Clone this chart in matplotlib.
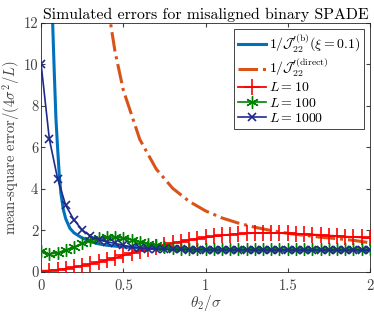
import matplotlib
matplotlib.use("Agg")
import matplotlib.pyplot as plt
import numpy as np

# Sampled theta_2/sigma grid for the simulated curves
theta = [0.00, 0.05, 0.10, 0.15, 0.20, 0.25, 0.30, 0.35, 0.40, 0.45,
         0.50, 0.55, 0.60, 0.65, 0.70, 0.75, 0.80, 0.85, 0.90, 0.95,
         1.00, 1.05, 1.10, 1.15, 1.20, 1.25, 1.30, 1.35, 1.40, 1.45,
         1.50, 1.55, 1.60, 1.65, 1.70, 1.75, 1.80, 1.85, 1.90, 1.95, 2.00]

err_L10 = [0.05, 0.06, 0.10, 0.15, 0.22, 0.30, 0.38, 0.47, 0.57, 0.68,
           0.79, 0.90, 1.00, 1.10, 1.20, 1.30, 1.38, 1.46, 1.53, 1.60,
           1.66, 1.71, 1.76, 1.80, 1.83, 1.86, 1.87, 1.88, 1.88, 1.87,
           1.86, 1.84, 1.82, 1.80, 1.78, 1.75, 1.73, 1.70, 1.68, 1.66, 1.64]

err_L100 = [1.00, 0.85, 0.92, 1.05, 1.20, 1.38, 1.52, 1.62, 1.67, 1.68,
            1.62, 1.55, 1.45, 1.35, 1.28, 1.20, 1.15, 1.12, 1.10, 1.08,
            1.10, 1.09, 1.08, 1.10, 1.08, 1.09, 1.08, 1.10, 1.08, 1.09,
            1.08, 1.10, 1.09, 1.08, 1.10, 1.08, 1.09, 1.08, 1.10, 1.09, 1.08]

err_L1000 = [10.0, 6.40, 4.50, 3.20, 2.50, 2.02, 1.72, 1.55, 1.45, 1.37,
             1.28, 1.20, 1.15, 1.12, 1.10, 1.09, 1.08, 1.08, 1.07, 1.07,
             1.07, 1.06, 1.06, 1.06, 1.06, 1.06, 1.05, 1.05, 1.05, 1.05,
             1.05, 1.05, 1.05, 1.05, 1.05, 1.05, 1.05, 1.05, 1.05, 1.05, 1.05]

# Inverse Fisher information curves
theta_b = [0.068, 0.08, 0.09, 0.10, 0.11, 0.12, 0.135, 0.15, 0.175, 0.20,
           0.24, 0.30, 0.35, 0.40, 0.50, 0.60, 0.80, 1.00, 1.50, 2.00]
inv_J_b = [12.5, 9.6, 7.4, 6.0, 4.7, 3.8, 3.0, 2.55, 2.1, 1.88,
           1.68, 1.45, 1.35, 1.28, 1.20, 1.15, 1.10, 1.08, 1.06, 1.05]

theta_d = [0.40, 0.45, 0.50, 0.60, 0.70, 0.80, 0.90, 1.00, 1.10, 1.20,
           1.30, 1.40, 1.50, 1.60, 1.70, 1.80, 1.90, 2.00]
inv_J_d = [13.1, 10.6, 8.76, 6.39, 4.96, 4.03, 3.40, 2.94, 2.60, 2.35,
           2.15, 1.99, 1.86, 1.76, 1.67, 1.60, 1.52, 1.40]

plt.rcParams["font.family"] = "serif"
plt.rcParams["font.serif"] = ["cmr10", "DejaVu Serif"]
plt.rcParams["mathtext.fontset"] = "cm"
plt.rcParams["axes.formatter.use_mathtext"] = True

fig = plt.figure(figsize=(3.74, 3.15), dpi=100)
ax = fig.add_axes([0.11, 0.137, 0.879, 0.79])

ax.plot(theta_b, inv_J_b, color="#0072BD", linewidth=2.2, zorder=2,
        label=r"$1/\mathcal{J}_{22}^{\prime(\mathrm{b})}(\xi=0.1)$")
ax.plot(theta_d, inv_J_d, color="#D95319", linewidth=2.2, linestyle="-.",
        zorder=2, label=r"$1/\mathcal{J}_{22}^{\prime(\mathrm{direct})}$")
ax.plot(theta, err_L10, color="red", marker="+", markersize=11,
        markeredgewidth=1.2, linewidth=1.3, zorder=3, label=r"$L=10$")
# MATLAB-style asterisk: six line arms
ax.plot(theta, err_L100, color="#008000", marker=(6, 2, 0), markersize=9,
        markeredgewidth=1.0, linewidth=1.2, zorder=3, label=r"$L=100$")
ax.plot(theta, err_L1000, color="#1f2a8c", marker="x", markersize=6,
        markeredgewidth=1.2, linewidth=1.2, zorder=4, label=r"$L=1000$")

ax.set_xlim(0, 2)
ax.set_ylim(0, 12)
ax.set_xticks([0, 0.5, 1, 1.5, 2])
ax.set_xticklabels(["0", "0.5", "1", "1.5", "2"])
ax.set_yticks([0, 2, 4, 6, 8, 10, 12])
ax.set_yticklabels(["0", "2", "4", "6", "8", "10", "12"])
ax.tick_params(direction="in", top=True, right=True, length=3,
               labelsize=10.5, colors="#404040")
ax.tick_params(axis="x", pad=5)
ax.tick_params(axis="y", pad=2)
for sp in ax.spines.values():
    sp.set_color("#262626")
    sp.set_linewidth(0.6)

ax.set_title("Simulated errors for misaligned binary SPADE", fontsize=11.4,
             pad=3)
ax.set_xlabel(r"$\theta_2/\sigma$", fontsize=11, color="#404040",
              labelpad=0)
ax.set_ylabel(r"mean-square error$/(4\sigma^2/L)$", fontsize=10.5,
              color="#404040", labelpad=1)

leg = ax.legend(loc="upper right", fontsize=10, handlelength=2.0,
                handletextpad=0.2, labelspacing=0.15, borderpad=0.3,
                fancybox=False, framealpha=1, borderaxespad=0.4)
leg.get_frame().set_edgecolor("#262626")
leg.get_frame().set_linewidth(0.6)

fig.savefig("out.png", dpi=100)
